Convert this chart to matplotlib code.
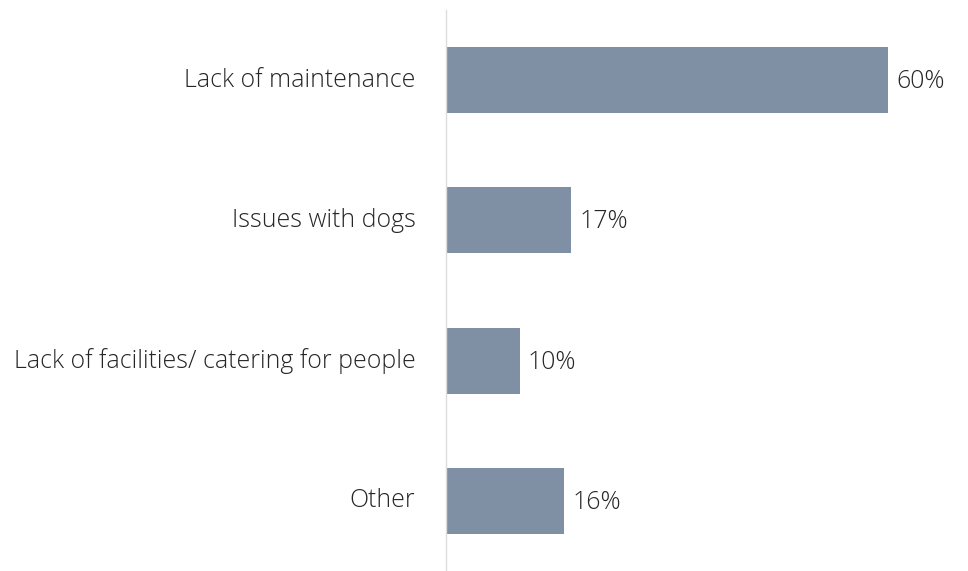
import matplotlib
matplotlib.use("Agg")
import matplotlib.pyplot as plt
from matplotlib import font_manager
from matplotlib.font_manager import FontProperties
from matplotlib.textpath import TextPath

categories = ["Lack of maintenance", "Issues with dogs",
              "Lack of facilities/ catering for people", "Other"]
values = [60, 17, 10, 16]
value_labels = ["60%", "17%", "10%", "16%"]

TEXT_COLOR = "#262626"
BAR_COLOR = "#7F90A5"


def light_font():
    # prefer a light, normal-width humanist sans; fall back to regular Noto Sans
    for name in ["Source Sans 3", "Source Sans Pro", "Open Sans", "Noto Sans",
                 "Roboto", "Lato"]:
        for f in font_manager.fontManager.ttflist:
            if (f.name == name and f.weight == 300 and f.style == "normal"
                    and f.stretch in ("normal", 500)):
                return FontProperties(fname=f.fname)
    return FontProperties(family="Noto Sans")


base = light_font()
# size the labels so the longest category spans about 400 px
probe = base.copy()
probe.set_size(100)
w100 = TextPath((0, 0), categories[2], prop=probe).get_extents().width
size_pt = 100 * 397 / w100 * 72 / 100
fp = base.copy()
fp.set_size(size_pt)

fig = plt.figure(figsize=(9.68, 5.71), dpi=100)
ax = fig.add_axes([446 / 968, 0, 1 - 446 / 968, 561 / 571])

y = list(range(len(categories)))
ax.barh(y, values, height=0.47, color=BAR_COLOR, left=0)
ax.set_ylim(len(categories) - 0.5, -0.5)
ax.set_xlim(0, 60 * 522 / 442)

for yi, v, lab in zip(y, values, value_labels):
    ax.annotate(lab, (v, yi), xytext=(6, -1), textcoords="offset points",
                va="center", ha="left", color=TEXT_COLOR, fontproperties=fp)

ax.set_yticks(y)
ax.set_yticklabels(categories, color=TEXT_COLOR, fontproperties=fp)
for t in ax.get_yticklabels():
    t.set_va("center")
ax.tick_params(axis="y", length=0, pad=22)
ax.set_xticks([])
for s in ["top", "right", "bottom"]:
    ax.spines[s].set_visible(False)
ax.spines["left"].set_color("#DDDDDD")
ax.spines["left"].set_linewidth(1)

fig.savefig("out.png", dpi=100)
